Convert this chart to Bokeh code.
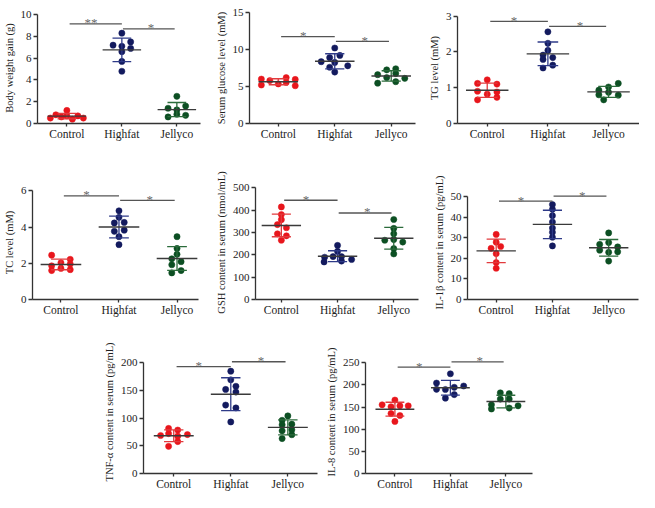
import numpy as np
from bokeh.plotting import figure
from bokeh.layouts import row, column, Spacer
from bokeh.models import ColumnDataSource, FixedTicker, Range1d
from bokeh.core.properties import value
from bokeh.embed import file_html
from bokeh.resources import INLINE

groups = ["Control", "Highfat", "Jellyco"]
dot_colors = ["#e8161c", "#131a5e", "#0c4f23"]
sd_colors = ["#e23a3d", "#2e3a88", "#2b6b3b"]
FONT = "Liberation Serif"

# ---------------- data (values per group, and horizontal scatter offsets) ----------------
bw_values = [[0.5, 0.8, 0.6, 1.2, 0.7, 0.4, 0.7, 0.5],
             [8.3, 7.2, 7.1, 7.5, 6.9, 6.6, 5.7, 4.8],
             [2.5, 1.4, 1.25, 1.6, 0.6, 0.85, 0.75]]
bw_offsets = [[-0.3, -0.2, -0.1, 0, 0, 0.1, 0.2, 0.3],
              [0, -0.16, 0, 0.16, 0.16, 0, 0, 0],
              [0, -0.16, 0, 0.16, -0.16, 0, 0.16]]

glu_values = [[6.0, 5.2, 5.8, 5.35, 6.2, 5.55, 5.95, 5.1],
              [10.2, 8.35, 8.9, 9.2, 7.6, 8.25, 7.8, 6.95],
              [7.25, 7.4, 6.6, 6.2, 6.75, 6.1, 5.45, 5.65]]
glu_offsets = [[-0.3, -0.3, -0.15, 0, 0.14, 0.14, 0.3, 0.3],
               [0, -0.24, -0.09, 0.09, -0.09, 0, 0.23, 0],
               [-0.08, 0.08, -0.24, -0.08, 0.08, 0.24, -0.24, 0.08]]

tg_values = [[1.12, 1.22, 1.1, 0.9, 0.82, 0.88, 0.66, 0.73],
             [2.56, 2.24, 2.04, 1.91, 1.84, 1.79, 1.55, 1.63],
             [1.12, 1.02, 0.93, 0.87, 0.8, 0.79, 0.66]]
tg_offsets = [[-0.16, 0, 0.16, -0.16, 0, 0.16, -0.16, 0.16],
              [0, 0, 0, -0.08, 0.08, -0.08, -0.08, 0.08],
              [0.16, 0, -0.16, 0, -0.16, 0.16, -0.08]]

tc_values = [[2.45, 2.22, 1.86, 2.03, 1.96, 1.72, 1.6, 1.65],
             [4.9, 4.54, 4.23, 4.26, 3.77, 3.83, 3.47, 3.03],
             [3.47, 2.82, 2.5, 2.25, 1.92, 2.09, 1.47, 1.6]]
tc_offsets = [[-0.16, 0.16, -0.16, 0, 0.16, 0, -0.16, 0.16],
              [0, 0, -0.08, 0.09, -0.08, 0.09, 0, 0],
              [0, 0, 0, -0.09, -0.09, 0.07, -0.09, 0.07]]

gsh_values = [[414, 380, 357, 335, 321, 294, 285, 265],
              [242, 215, 189, 192, 192, 179, 168, 172],
              [358, 318, 294, 265, 268, 257, 228, 204]]
gsh_offsets = [[0, 0, 0, -0.07, 0.09, -0.07, 0.09, 0],
               [0, 0, -0.23, -0.08, 0.07, 0.25, -0.24, 0.07],
               [0, 0, 0, -0.16, 0, 0.16, 0, 0]]

il1b_values = [[31.7, 27.9, 24.9, 25.8, 22.3, 18.0, 15.2],
               [46.2, 43.9, 40.8, 37.7, 34.8, 32.7, 30.3, 26.1],
               [32.4, 26.8, 27.7, 25.6, 24.0, 23.0, 23.2, 18.7]]
il1b_offsets = [[0, 0, -0.09, 0.08, 0, 0, 0],
                [0, 0, 0, 0, 0, 0, 0, 0],
                [0, -0.16, 0, 0.16, -0.16, 0, 0.16, 0]]

tnf_values = [[68.6, 81.3, 78.4, 70.3, 72, 67.4, 57.6, 49],
              [184.6, 169, 151.7, 157.4, 147, 123.5, 118.3, 93],
              [104, 96, 89, 88, 79, 77, 70, 63]]
tnf_offsets = [[-0.23, -0.09, 0.07, 0.24, -0.09, 0.07, 0.07, -0.09],
               [0, 0, -0.09, 0.09, 0.09, -0.09, 0.09, 0],
               [0, -0.1, 0.07, -0.1, 0.07, -0.1, 0.07, -0.1]]

il8_values = [[165.7, 155, 150.6, 152.7, 152.7, 135.4, 130.9, 117.4],
              [225, 204, 189.5, 194.5, 197.4, 190, 170, 178],
              [182, 180, 168, 168, 155, 152.7, 145.5, 147.7]]
il8_offsets = [[0, -0.23, -0.07, 0.09, 0.24, -0.07, 0.09, 0],
               [0, -0.25, -0.09, 0.07, 0.24, -0.25, -0.09, 0.07],
               [-0.1, 0.06, -0.1, 0.06, -0.26, 0.22, -0.26, 0.06]]

# significance brackets (height of Control-Highfat and Highfat-Jellyco lines) and marks
bw_brackets, bw_marks = [9.16, 8.7], ["**", "*"]
glu_brackets, glu_marks = [11.74, 11.09], ["*", "*"]
tg_brackets, tg_marks = [2.85, 2.71], ["*", "*"]
tc_brackets, tc_marks = [5.73, 5.48], ["*", "*"]
gsh_brackets, gsh_marks = [444, 387], ["*", "*"]
il1b_brackets, il1b_marks = [47.9, 50.3], ["*", "*"]
tnf_brackets, tnf_marks = [193, 201.7], ["*", "*"]
il8_brackets, il8_marks = [240, 252], ["*", "*"]

bw_ticks = [0, 2, 4, 6, 8, 10]
glu_ticks = [0, 5, 10, 15]
tg_ticks = [0, 1, 2, 3]
tc_ticks = [0, 2, 4, 6]
gsh_ticks = [0, 100, 200, 300, 400, 500]
il1b_ticks = [0, 10, 20, 30, 40, 50]
tnf_ticks = [0, 50, 100, 150, 200]
il8_ticks = [0, 50, 100, 150, 200, 250]


def panel(values, offsets, ticks, brackets, marks, ylabel, y_end, xr,
          w, h, left, right, top, bottom):
    p = figure(width=w, height=h,
               x_range=Range1d(*xr), y_range=Range1d(0, y_end),
               min_border_left=left, min_border_right=right,
               min_border_top=top, min_border_bottom=bottom,
               output_backend="svg", toolbar_location=None)
    p.outline_line_color = None
    p.xgrid.visible = False
    p.ygrid.visible = False
    p.background_fill_color = "white"
    p.border_fill_color = "white"

    for i in range(3):
        c = i + 1
        v = np.array(values[i], dtype=float)
        xs = [c + d for d in offsets[i]]
        m = float(np.mean(v))
        s = float(np.std(v, ddof=1))
        src = ColumnDataSource(dict(x=xs, y=list(v)))
        p.scatter("x", "y", source=src, size=6.2, marker="circle",
                  fill_color=dot_colors[i], line_color=dot_colors[i], line_width=0.5)
        # SD whisker + caps
        p.segment(x0=[c, c - 0.17, c - 0.17], y0=[m - s, m + s, m - s],
                  x1=[c, c + 0.17, c + 0.17], y1=[m + s, m + s, m - s],
                  line_color=sd_colors[i], line_width=1.3)
        # mean line
        p.segment(x0=[c - 0.35], y0=[m], x1=[c + 0.35], y1=[m],
                  line_color="#3a3a3a", line_width=1.4)

    p.segment(x0=[1.05, 2.02], y0=brackets, x1=[2.0, 2.96], y1=brackets,
              line_color="#555555", line_width=1.3)
    p.text(x=[1.44, 2.53], y=brackets, text=marks, text_align="center",
           text_baseline="alphabetic", y_offset=-1,
           text_font=value(FONT), text_font_size="13px", text_color="#6a6a6a")

    # axes
    p.xaxis.ticker = FixedTicker(ticks=[1, 2, 3])
    p.xaxis.major_label_overrides = {1: groups[0], 2: groups[1], 3: groups[2]}
    p.yaxis.ticker = FixedTicker(ticks=ticks)
    p.yaxis.bounds = (0, ticks[-1])
    for ax in (p.xaxis, p.yaxis):
        ax.axis_line_color = "#333333"
        ax.axis_line_width = 1.3
        ax.major_tick_line_color = "#333333"
        ax.major_tick_line_width = 1.3
        ax.major_tick_in = 0
        ax.minor_tick_line_color = None
        ax.major_label_text_font = FONT
        ax.major_label_text_color = "#222222"
    p.xaxis.major_tick_out = 3
    p.xaxis.major_label_standoff = 1
    p.xaxis.major_label_text_font_size = "11.5px"
    p.yaxis.major_tick_out = 4
    p.yaxis.major_label_standoff = 2
    p.yaxis.major_label_text_font_size = "11px"
    p.yaxis.axis_label = ylabel
    p.yaxis.axis_label_text_font = FONT
    p.yaxis.axis_label_text_font_style = "normal"
    p.yaxis.axis_label_text_font_size = "10.5px"
    p.yaxis.axis_label_text_color = "#222222"
    p.yaxis.axis_label_standoff = 3
    return p


p1 = panel(bw_values, bw_offsets, bw_ticks, bw_brackets, bw_marks,
           "Body weight gain (g)", 10.2, (0.466, 3.43), 212, 148, 31, 12, 4, 25)
p2 = panel(glu_values, glu_offsets, glu_ticks, glu_brackets, glu_marks,
           "Serum glucose level (mM)", 15, (0.49, 3.43), 213, 148, 35, 10, 12, 25)
p3 = panel(tg_values, tg_offsets, tg_ticks, tg_brackets, tg_marks,
           "TG level (mM)", 3.1, (0.51, 3.51), 214, 148, 31, 0, 2, 24)
p4 = panel(tc_values, tc_offsets, tc_ticks, tc_brackets, tc_marks,
           "TC level (mM)", 6.3, (0.51, 3.37), 212, 178, 26, 14, 27, 27)
p5 = panel(gsh_values, gsh_offsets, gsh_ticks, gsh_brackets, gsh_marks,
           "GSH content in serum (nmol/mL)", 510, (0.54, 3.44), 218, 178, 42, 12, 37, 26)
p6 = panel(il1b_values, il1b_offsets, il1b_ticks, il1b_brackets, il1b_marks,
           "IL-1β content in serum (pg/mL)", 55.5, (0.49, 3.53), 209, 178, 36, 1, 24, 27)
p7 = panel(tnf_values, tnf_offsets, tnf_ticks, tnf_brackets, tnf_marks,
           "TNF-α content in serum (pg/mL)", 222, (0.47, 3.52), 222, 166, 41, 5, 24, 18)
p8 = panel(il8_values, il8_offsets, il8_ticks, il8_brackets, il8_marks,
           "IL-8 content in serum (pg/mL)", 277.5, (0.47, 3.48), 215, 166, 37, 5, 24, 18)

layout = column(row(p1, p2, p3),
                row(p4, p5, p6),
                row(Spacer(width=100, height=166), p7, p8))

open("out.html", "w").write(file_html(layout, INLINE))
